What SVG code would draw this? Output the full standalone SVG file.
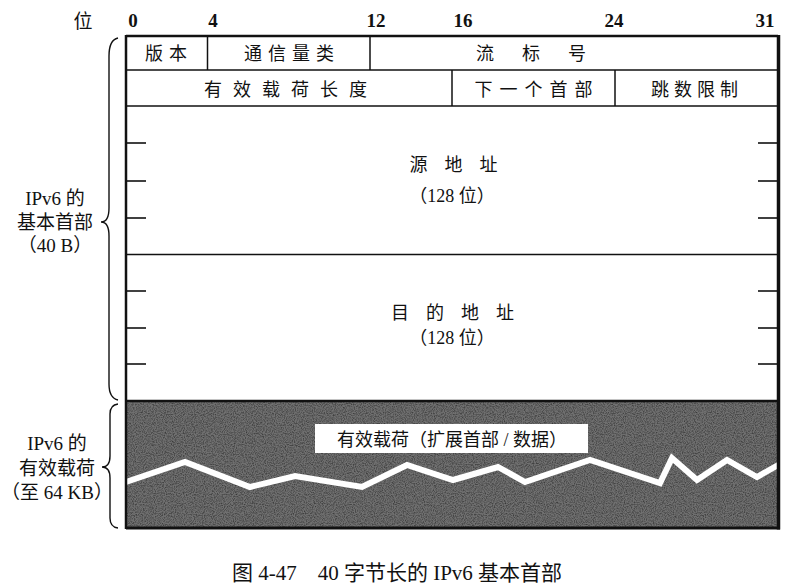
<svg xmlns="http://www.w3.org/2000/svg" width="787" height="585" viewBox="0 0 787 585">
  <style>
    .t { font-family: "Liberation Serif", "Noto Sans CJK SC", serif; fill: #111; }
    .cell { font-size: 18px; text-anchor: middle; }
    .num { font-size: 19px; text-anchor: middle; font-weight: bold; }
    .side { font-size: 19px; text-anchor: middle; }
    .thin { stroke: #111; stroke-width: 1.5; fill: none; }
    .tick { stroke: #111; stroke-width: 1.6; }
    .brace { stroke: #111; stroke-width: 1.4; fill: none; }
  </style>
  <defs>
    <filter id="grain" x="0" y="0" width="100%" height="100%">
      <feTurbulence type="fractalNoise" baseFrequency="0.9" numOctaves="2" seed="3" result="n"/>
      <feColorMatrix in="n" type="matrix" values="0 0 0 0 0  0 0 0 0 0  0 0 0 0 0  0 0 0 -1.6 1.0" result="dots"/>
      <feComposite in="dots" in2="SourceGraphic" operator="in"/>
    </filter>
  </defs>

  <rect width="787" height="585" fill="#fff"/>

  <!-- bit scale -->
  <g id="bit-scale" class="t">
    <text x="83" y="28" class="side">位</text>
    <text x="133" y="27" class="num">0</text>
    <text x="213" y="27" class="num">4</text>
    <text x="376" y="27" class="num">12</text>
    <text x="463" y="27" class="num">16</text>
    <text x="614" y="27" class="num">24</text>
    <text x="765" y="27" class="num">31</text>
  </g>

  <!-- payload area -->
  <g id="payload">
    <rect x="126" y="401" width="652" height="127" fill="#707070"/>
    <rect x="126" y="401" width="652" height="127" fill="#2e2e2e" filter="url(#grain)" opacity="0.6"/>
    <polyline points="126,482 185,462 250,487 295,476 362,487 407,465 453,480 498,467 525,482 590,460 660,483 672,458 697,480 727,460 757,477 780,464"
              fill="none" stroke="#fff" stroke-width="6" stroke-linejoin="miter"/>
    <rect x="315" y="424" width="273" height="29" fill="#fff"/>
    <text x="452" y="446" class="t cell" font-size="20">有效载荷（扩展首部 / 数据）</text>
  </g>

  <!-- header rows -->
  <g id="row1" class="t">
    <line x1="126" y1="70" x2="778" y2="70" class="thin"/>
    <line x1="207.5" y1="37" x2="207.5" y2="70" class="thin"/>
    <line x1="370" y1="37" x2="370" y2="70" class="thin"/>
    <text x="169" y="60" class="cell" letter-spacing="6">版本</text>
    <text x="292" y="60" class="cell" letter-spacing="6">通信量类</text>
    <text x="545" y="60" class="cell" letter-spacing="28">流标号</text>
  </g>
  <g id="row2" class="t">
    <line x1="126" y1="106" x2="778" y2="106" class="thin"/>
    <line x1="452" y1="70" x2="452" y2="106" class="thin"/>
    <line x1="615" y1="70" x2="615" y2="106" class="thin"/>
    <text x="291" y="96" class="cell" letter-spacing="11">有效载荷长度</text>
    <text x="537" y="96" class="cell" letter-spacing="7">下一个首部</text>
    <text x="697" y="96" class="cell" letter-spacing="5">跳数限制</text>
  </g>
  <g id="source-address" class="t">
    <line x1="126" y1="254.5" x2="778" y2="254.5" class="thin"/>
    <line x1="126" y1="143" x2="146" y2="143" class="tick"/>
    <line x1="126" y1="181" x2="146" y2="181" class="tick"/>
    <line x1="126" y1="218" x2="146" y2="218" class="tick"/>
    <line x1="758" y1="143" x2="778" y2="143" class="tick"/>
    <line x1="758" y1="181" x2="778" y2="181" class="tick"/>
    <line x1="758" y1="218" x2="778" y2="218" class="tick"/>
    <text x="462" y="171" class="cell" letter-spacing="17">源地址</text>
    <text x="452" y="202" class="cell">（128 位）</text>
  </g>
  <g id="destination-address" class="t">
    <line x1="126" y1="291" x2="146" y2="291" class="tick"/>
    <line x1="126" y1="328" x2="146" y2="328" class="tick"/>
    <line x1="126" y1="364" x2="146" y2="364" class="tick"/>
    <line x1="758" y1="291" x2="778" y2="291" class="tick"/>
    <line x1="758" y1="328" x2="778" y2="328" class="tick"/>
    <line x1="758" y1="364" x2="778" y2="364" class="tick"/>
    <text x="461" y="319" class="cell" letter-spacing="17">目的地址</text>
    <text x="452" y="344" class="cell">（128 位）</text>
  </g>

  <!-- outer frame -->
  <g id="frame">
    <line x1="126" y1="36" x2="778" y2="36" stroke="#111" stroke-width="2.5"/>
    <line x1="126" y1="401" x2="778" y2="401" stroke="#111" stroke-width="2.5"/>
    <line x1="126" y1="528" x2="780" y2="528" stroke="#111" stroke-width="3"/>
    <line x1="126" y1="35" x2="126" y2="529" stroke="#111" stroke-width="2.5"/>
    <line x1="778.5" y1="35" x2="778.5" y2="529.5" stroke="#111" stroke-width="3.5"/>
  </g>

  <!-- side labels with braces -->
  <g id="header-label" class="t">
    <path class="brace" d="M118,38 Q109,40 109,56 L109,208 Q109,222 101,222 Q109,222 109,236 L109,384 Q109,398 118,400"/>
    <text x="55" y="205" class="side">IPv6 的</text>
    <text x="55" y="229" class="side">基本首部</text>
    <text x="55" y="252" class="side">（40 B）</text>
  </g>
  <g id="payload-label" class="t">
    <path class="brace" d="M118,404 Q110,405 110,414 L110,456 Q110,467 102,467 Q110,467 110,478 L110,518 Q110,527 118,528"/>
    <text x="57" y="450" class="side">IPv6 的</text>
    <text x="57" y="475" class="side">有效载荷</text>
    <text x="57" y="499" class="side">（至 64 KB）</text>
  </g>

  <!-- caption -->
  <g id="caption" class="t">
    <text x="397" y="580" font-size="21" text-anchor="middle" xml:space="preserve">图 4-47    40 字节长的 IPv6 基本首部</text>
  </g>
</svg>
